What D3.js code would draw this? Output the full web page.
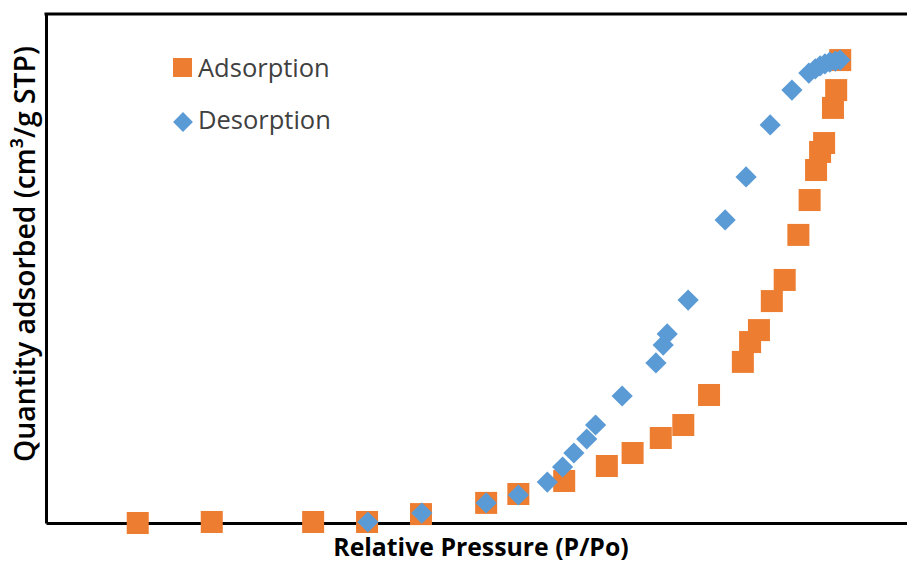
<!DOCTYPE html>
<html>
<head>
<meta charset="utf-8">
<script src="https://cdn.jsdelivr.net/npm/d3@7"></script>
<style>
  html, body { margin: 0; padding: 0; background: #fff; }
  svg { display: block; }
</style>
</head>
<body>
<div id="chart"></div>
<script>
// relative pressure P/Po and quantity adsorbed (cm3/g STP)
const adsorptionX = [0.114, 0.206, 0.332, 0.399, 0.466, 0.547, 0.587, 0.644, 0.697, 0.729,
  0.764, 0.792, 0.824, 0.866, 0.875, 0.886, 0.902, 0.918, 0.935, 0.949,
  0.957, 0.962, 0.967, 0.978, 0.982, 0.987];
const adsorptionY = [0.0, 0.4, 0.4, 0.4, 3.5, 7.9, 11.4, 16.5, 22.4, 27.5,
  33.4, 38.5, 50.3, 63.3, 71.1, 75.8, 87.2, 95.5, 113.2, 126.9,
  138.7, 145.8, 149.3, 163.1, 170.1, 181.9];

const desorptionX = [0.400, 0.467, 0.547, 0.587, 0.623, 0.642, 0.656, 0.672, 0.683, 0.716,
  0.758, 0.767, 0.772, 0.798, 0.844, 0.870, 0.900, 0.927, 0.948, 0.956,
  0.962, 0.968, 0.974, 0.981, 0.987];
const desorptionY = [0.4, 3.9, 7.9, 11.0, 16.1, 22.0, 27.5, 33.0, 38.5, 49.9,
  62.9, 69.9, 74.3, 87.6, 119.1, 136.0, 156.4, 170.1, 176.8, 178.4,
  179.6, 180.4, 181.1, 181.5, 181.9];

const seriesNames = ['Adsorption', 'Desorption'];
const xTitle = 'Relative Pressure (P/Po)';
const yTitle = 'Quantity adsorbed (cm³/g STP)';

const width = 907, height = 562;
const margin = { top: 14, right: 0, bottom: 39, left: 46 };
const orange = '#ED7D31', blue = '#5B9BD5';
const font = '"Open Sans", "DejaVu Sans", sans-serif';

const svg = d3.select('#chart').append('svg')
  .attr('width', width)
  .attr('height', height);

const x = d3.scaleLinear().domain([0, 1.07]).range([margin.left, width - margin.right]);
const y = d3.scaleLinear().domain([0, 200]).range([height - margin.bottom, margin.top]);

// frame: left + bottom axes, top border (right edge is cut off)
const axisStyle = g => g.select('.domain').attr('stroke', '#000').attr('stroke-width', 3);
svg.append('g')
  .attr('transform', `translate(0,${y(0)})`)
  .call(d3.axisBottom(x).tickValues([]).tickSizeOuter(0))
  .call(axisStyle);
svg.append('g')
  .attr('transform', `translate(${x(0)},0)`)
  .call(d3.axisLeft(y).tickValues([]).tickSizeOuter(0))
  .call(axisStyle);
svg.append('line')
  .attr('x1', x.range()[0] - 1.5).attr('x2', x.range()[1])
  .attr('y1', y(200)).attr('y2', y(200))
  .attr('stroke', '#000').attr('stroke-width', 3);

const sq = 22;
const adsorption = adsorptionX.map((v, i) => ({ x: v, y: adsorptionY[i] }));
const desorption = desorptionX.map((v, i) => ({ x: v, y: desorptionY[i] }));

svg.append('g').selectAll('rect')
  .data(adsorption)
  .enter().append('rect')
  .attr('x', d => x(d.x) - sq / 2)
  .attr('y', d => y(d.y) - sq / 2)
  .attr('width', sq)
  .attr('height', sq)
  .attr('fill', orange);

const diamond = d3.symbol().type(d3.symbolSquare).size(15 * 15);
svg.append('g').selectAll('path')
  .data(desorption)
  .enter().append('path')
  .attr('d', diamond)
  .attr('transform', d => `translate(${x(d.x)},${y(d.y)}) rotate(45)`)
  .attr('fill', blue);

// legend
const legend = svg.append('g');
legend.append('rect')
  .attr('x', 173).attr('y', 58).attr('width', 19).attr('height', 19)
  .attr('fill', orange);
legend.append('path')
  .attr('d', d3.symbol().type(d3.symbolSquare).size(14 * 14))
  .attr('transform', 'translate(183,122) rotate(45)')
  .attr('fill', blue);
legend.selectAll('text')
  .data(seriesNames)
  .enter().append('text')
  .attr('x', 198)
  .attr('y', (d, i) => 77 + i * 52)
  .style('font-family', font)
  .style('font-size', '25.5px')
  .attr('fill', '#404040')
  .text(d => d);

// axis titles
svg.append('text')
  .attr('x', 481).attr('y', 556)
  .attr('text-anchor', 'middle')
  .style('font-family', font)
  .style('font-size', '24.8px')
  .style('font-weight', 'bold')
  .attr('fill', '#000')
  .text(xTitle);

svg.append('text')
  .attr('transform', 'translate(35,254) rotate(-90)')
  .attr('text-anchor', 'middle')
  .style('font-family', font)
  .style('font-size', '28.3px')
  .style('font-weight', '600')
  .attr('fill', '#000')
  .text(yTitle);
</script>
</body>
</html>
